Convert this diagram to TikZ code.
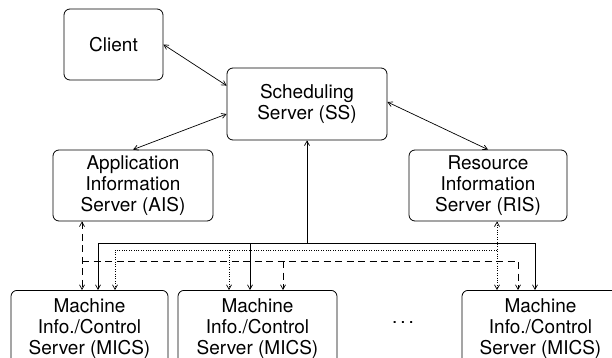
\documentclass[tikz,border=0pt]{standalone}
\usepackage{fontspec}
\setmainfont{TeX Gyre Heros}
\usetikzlibrary{arrows.meta,calc}
\begin{document}
\begin{tikzpicture}[x=1pt,y=-1pt,
  box/.style={draw, rounded corners=6pt, line width=0.8pt, align=center, inner sep=0pt,
    font=\fontsize{19}{21}\selectfont},
  mbox/.style={box, minimum height=76pt, anchor=north},
  conn/.style={line width=0.7pt},
  dotline/.style={conn, dash pattern=on 1pt off 1.4pt},
  dashline/.style={conn, dash pattern=on 7pt off 4.5pt},
  >={Straight Barb[length=4.5pt,width=5pt]}
]
\useasboundingbox (0,0) rectangle (612,358);
\clip (0,0) rectangle (612,358);
\fill[white] (0,0) rectangle (612,358);

% nodes
\node[box, minimum width=99pt, minimum height=71pt] (client) at (113.5,44.5) {Client};
\node[box, minimum width=160pt, minimum height=72pt] (ss) at (307,104) {Scheduling\\Server (SS)};
\node[box, minimum width=160pt, minimum height=71pt] (ais) at (133,185.5) {Application\\Information\\Server (AIS)};
\node[box, minimum width=158pt, minimum height=71pt] (ris) at (488,185.5) {Resource\\Information\\Server (RIS)};
\node[mbox, minimum width=157pt] (m1) at (89.5,290) {Machine\\Info./Control\\Server (MICS)};
\node[mbox, minimum width=159pt] (m2) at (257.5,290) {Machine\\Info./Control\\Server (MICS)};
\node[mbox, minimum width=157pt] (m3) at (540.5,290) {Machine\\Info./Control\\Server (MICS)};
\node[font=\fontsize{19}{21}\selectfont, inner sep=0pt] (dots) at (403,323) {.\hspace{3pt}.\hspace{3pt}.};

% upper connectors
\draw[conn,<->] (client.east) -- ($(ss.north west)+(0,18)$);
\draw[conn,<->] (ais.north) -- ($(ss.west)+(0,10)$);
\draw[conn,<->] (ris.north) -- ($(ss.east)+(0,-2)$);

% solid bus
\coordinate (s1) at (98,243);
\coordinate (s2) at (250,243);
\coordinate (s3) at (535,243);
\coordinate (s0) at (ss.south |- s1);
\draw[conn,->] (s0) -- (ss.south);
\draw[conn,<->] (s1 |- m1.north) -- (s1) -- (s3) -- (s3 |- m3.north);
\draw[conn,->] (s2) -- (s2 |- m2.north);

% dotted bus
\coordinate (d1) at (115,250);
\coordinate (d2) at (229,250);
\coordinate (d3) at (497,250);
\draw[dotline,<->] (d3 |- ris.south) -- (d3 |- m3.north);
\draw[dotline,->] (d3) -- (d1) -- (d1 |- m1.north);
\draw[dotline,->] (d2) -- (d2 |- m2.north);

% dashed bus
\coordinate (a1) at (82,261);
\coordinate (a2) at (283,261);
\coordinate (a3) at (518,261);
\draw[dashline,<->] (a1 |- ais.south) -- (a1 |- m1.north);
\draw[dashline,->] (a1) -- (a3) -- (a3 |- m3.north);
\draw[dashline,->] (a2) -- (a2 |- m2.north);
\end{tikzpicture}
\end{document}
